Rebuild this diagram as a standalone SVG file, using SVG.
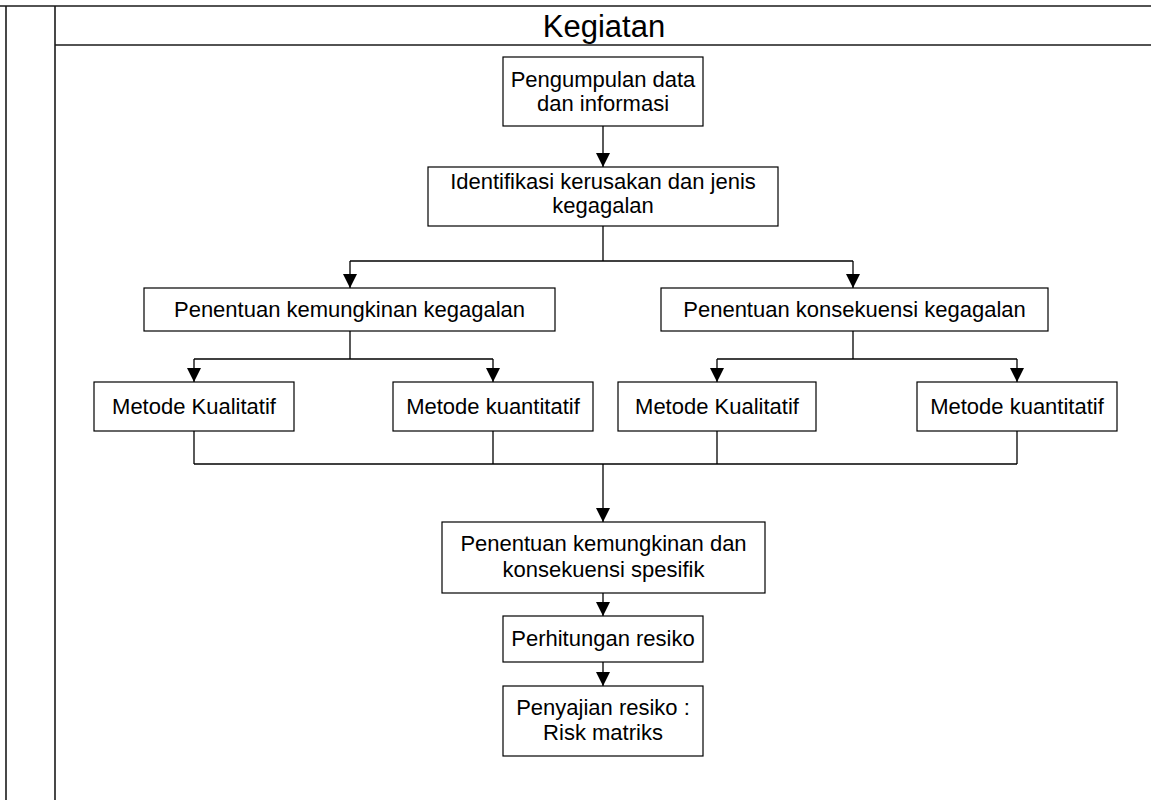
<svg xmlns="http://www.w3.org/2000/svg" width="1151" height="800" viewBox="0 0 1151 800">
  <style>
    .frame { stroke: #1a1a1a; stroke-width: 1.6; fill: none; }
    .box { fill: #ffffff; stroke: #000000; stroke-width: 1.2; }
    .lbl { font-family: "Liberation Sans", Arial, sans-serif; font-size: 22px; fill: #000000; text-anchor: middle; }
    .title { font-family: "Liberation Sans", Arial, sans-serif; font-size: 31px; fill: #000000; text-anchor: middle; }
    .wire { stroke: #000000; stroke-width: 1.3; fill: none; }
  </style>
  <defs>
    <marker id="arrow" markerUnits="userSpaceOnUse" markerWidth="15" markerHeight="15" refX="14" refY="7" orient="auto">
      <path d="M0,0 L14,7 L0,14 z" fill="#000000"/>
    </marker>
  </defs>

  <rect x="0" y="0" width="1151" height="800" fill="#ffffff"/>

  <!-- swimlane frame -->
  <g id="lane">
    <line class="frame" x1="0" y1="6" x2="1151" y2="6"/>
    <line class="frame" x1="6" y1="6" x2="6" y2="800"/>
    <line class="frame" x1="55" y1="6" x2="55" y2="800"/>
    <line class="frame" x1="55" y1="45" x2="1151" y2="45"/>
    <text class="title" x="604" y="37">Kegiatan</text>
  </g>

  <!-- connectors -->
  <g id="connectors">
    <line class="wire" x1="603" y1="126" x2="603" y2="167" marker-end="url(#arrow)"/>
    <polyline class="wire" points="603,226 603,261"/>
    <polyline class="wire" points="350,261 853,261"/>
    <line class="wire" x1="350" y1="261" x2="350" y2="288" marker-end="url(#arrow)"/>
    <line class="wire" x1="853" y1="261" x2="853" y2="288" marker-end="url(#arrow)"/>

    <polyline class="wire" points="350,331 350,359"/>
    <polyline class="wire" points="194,359 493,359"/>
    <line class="wire" x1="194" y1="359" x2="194" y2="382" marker-end="url(#arrow)"/>
    <line class="wire" x1="493" y1="359" x2="493" y2="382" marker-end="url(#arrow)"/>

    <polyline class="wire" points="853,331 853,359"/>
    <polyline class="wire" points="717,359 1017,359"/>
    <line class="wire" x1="717" y1="359" x2="717" y2="382" marker-end="url(#arrow)"/>
    <line class="wire" x1="1017" y1="359" x2="1017" y2="382" marker-end="url(#arrow)"/>

    <line class="wire" x1="194" y1="431" x2="194" y2="464"/>
    <line class="wire" x1="493" y1="431" x2="493" y2="464"/>
    <line class="wire" x1="717" y1="431" x2="717" y2="464"/>
    <line class="wire" x1="1017" y1="431" x2="1017" y2="464"/>
    <line class="wire" x1="194" y1="464" x2="1017" y2="464"/>
    <line class="wire" x1="603" y1="464" x2="603" y2="522" marker-end="url(#arrow)"/>

    <line class="wire" x1="603" y1="593" x2="603" y2="616" marker-end="url(#arrow)"/>
    <line class="wire" x1="603" y1="662" x2="603" y2="686" marker-end="url(#arrow)"/>
  </g>

  <!-- process steps -->
  <g id="n-pengumpulan">
    <rect class="box" x="503" y="57" width="200" height="69"/>
    <text class="lbl" x="603" y="87">Pengumpulan data</text>
    <text class="lbl" x="603" y="111">dan informasi</text>
  </g>
  <g id="n-identifikasi">
    <rect class="box" x="428" y="167" width="350" height="59"/>
    <text class="lbl" x="603" y="189">Identifikasi kerusakan dan jenis</text>
    <text class="lbl" x="603" y="213">kegagalan</text>
  </g>
  <g id="n-kemungkinan">
    <rect class="box" x="144" y="288" width="411" height="43"/>
    <text class="lbl" x="349.5" y="317">Penentuan kemungkinan kegagalan</text>
  </g>
  <g id="n-konsekuensi">
    <rect class="box" x="661" y="288" width="387" height="43"/>
    <text class="lbl" x="854.5" y="317">Penentuan konsekuensi kegagalan</text>
  </g>
  <g id="n-kualitatif-1">
    <rect class="box" x="94" y="382" width="200" height="49"/>
    <text class="lbl" x="194" y="414">Metode Kualitatif</text>
  </g>
  <g id="n-kuantitatif-1">
    <rect class="box" x="393" y="382" width="200" height="49"/>
    <text class="lbl" x="493" y="414">Metode kuantitatif</text>
  </g>
  <g id="n-kualitatif-2">
    <rect class="box" x="618" y="382" width="198" height="49"/>
    <text class="lbl" x="717" y="414">Metode Kualitatif</text>
  </g>
  <g id="n-kuantitatif-2">
    <rect class="box" x="917" y="382" width="200" height="49"/>
    <text class="lbl" x="1017" y="414">Metode kuantitatif</text>
  </g>
  <g id="n-spesifik">
    <rect class="box" x="442" y="522" width="323" height="71"/>
    <text class="lbl" x="603.5" y="551">Penentuan kemungkinan dan</text>
    <text class="lbl" x="603.5" y="577">konsekuensi spesifik</text>
  </g>
  <g id="n-perhitungan">
    <rect class="box" x="503" y="616" width="200" height="46"/>
    <text class="lbl" x="603" y="646">Perhitungan resiko</text>
  </g>
  <g id="n-penyajian">
    <rect class="box" x="503" y="686" width="200" height="70"/>
    <text class="lbl" x="603" y="715">Penyajian resiko :</text>
    <text class="lbl" x="603" y="740">Risk matriks</text>
  </g>
</svg>
